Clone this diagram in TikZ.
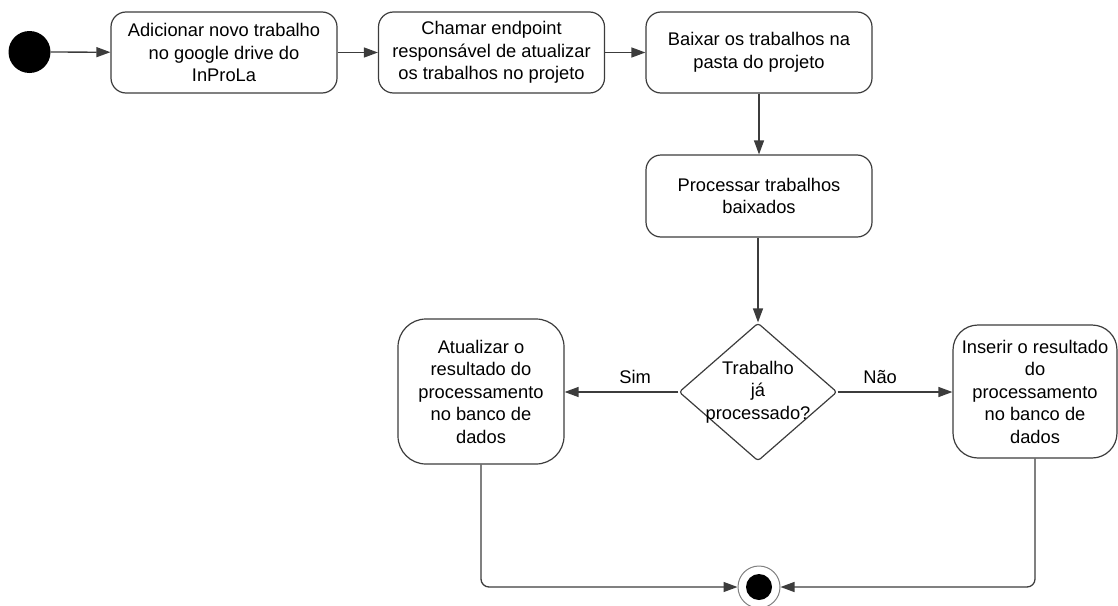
\documentclass[tikz,border=0pt]{standalone}
\usepackage{fontspec}
\setmainfont{Liberation Sans}
\usetikzlibrary{arrows.meta,shapes.geometric}
\definecolor{linec}{HTML}{3C3C3C}
\tikzset{
  act/.style={draw=linec, line width=1.2pt, rounded corners=#1, align=center, inner sep=0pt,
    font=\fontsize{18.3}{22.5}\selectfont, text=black},
  act/.default=15pt,
  conn/.style={draw=linec, line width=1.3pt, -{Triangle[length=14pt,width=10pt]}},
  lbl/.style={font=\fontsize{18.3}{22.5}\selectfont, text=black, inner sep=0pt},
}
\begin{document}
\begin{tikzpicture}[x=1pt,y=-1pt]
\useasboundingbox (0,0) rectangle (1118,605);
\node[circle, fill=black, minimum size=42pt, inner sep=0pt] (start) at (29.5,52) {};
\node[act, minimum width=226pt, minimum height=81pt] (b1) at (224,52.5)
  {Adicionar novo trabalho\\no google drive do\\InProLa};
\node[act, minimum width=226pt, minimum height=81pt] (b2) at (491.5,52.5)
  {Chamar endpoint\\responsável de atualizar\\os trabalhos no projeto};
\node[act, minimum width=226pt, minimum height=81pt] (b3) at (759,52.5)
  {Baixar os trabalhos na\\pasta do projeto};
\node[act, minimum width=226pt, minimum height=82pt] (b4) at (759,196)
  {Processar trabalhos\\baixados};
\node[diamond, draw=linec, line width=1.2pt, minimum width=158pt, minimum height=138pt,
  inner sep=0pt, rounded corners=3pt] (dec) at (758,392) {};
\node[lbl, align=center] (dectext) at (dec.center) {Trabalho\\já\\processado?};
\node[act=28pt, minimum width=166pt, minimum height=145pt] (left) at (481,391.5)
  {Atualizar o\\resultado do\\processamento\\no banco de\\dados};
\node[act=25pt, minimum width=164pt, minimum height=133pt] (right) at (1035,391.5)
  {Inserir o resultado\\do\\processamento\\no banco de\\dados};
\node[circle, draw=gray, line width=1pt, minimum size=42pt, inner sep=0pt] (end) at (759,587) {};
\node[circle, fill=black, minimum size=26pt, inner sep=0pt] (endin) at (end.center) {};
\draw[conn] (start) -- (b1);
\draw[conn] (b1) -- (b2);
\draw[conn] (b2) -- (b3);
\draw[conn] (b3) -- (b4);
\draw[conn] (b4.south -| dec.north) -- (dec.north);
\draw[conn] (dec.west) -- node[lbl, above=8pt, pos=0.38] (sim) {Sim} (left.east |- dec.west);
\draw[conn] (dec.east) -- node[lbl, above=8pt, pos=0.37] (nao) {Não} (right.west |- dec.east);
\draw[conn, rounded corners=8pt] (left.south) |- (end.west);
\draw[conn, rounded corners=8pt] (right.south) |- (end.east);
\end{tikzpicture}
\end{document}
